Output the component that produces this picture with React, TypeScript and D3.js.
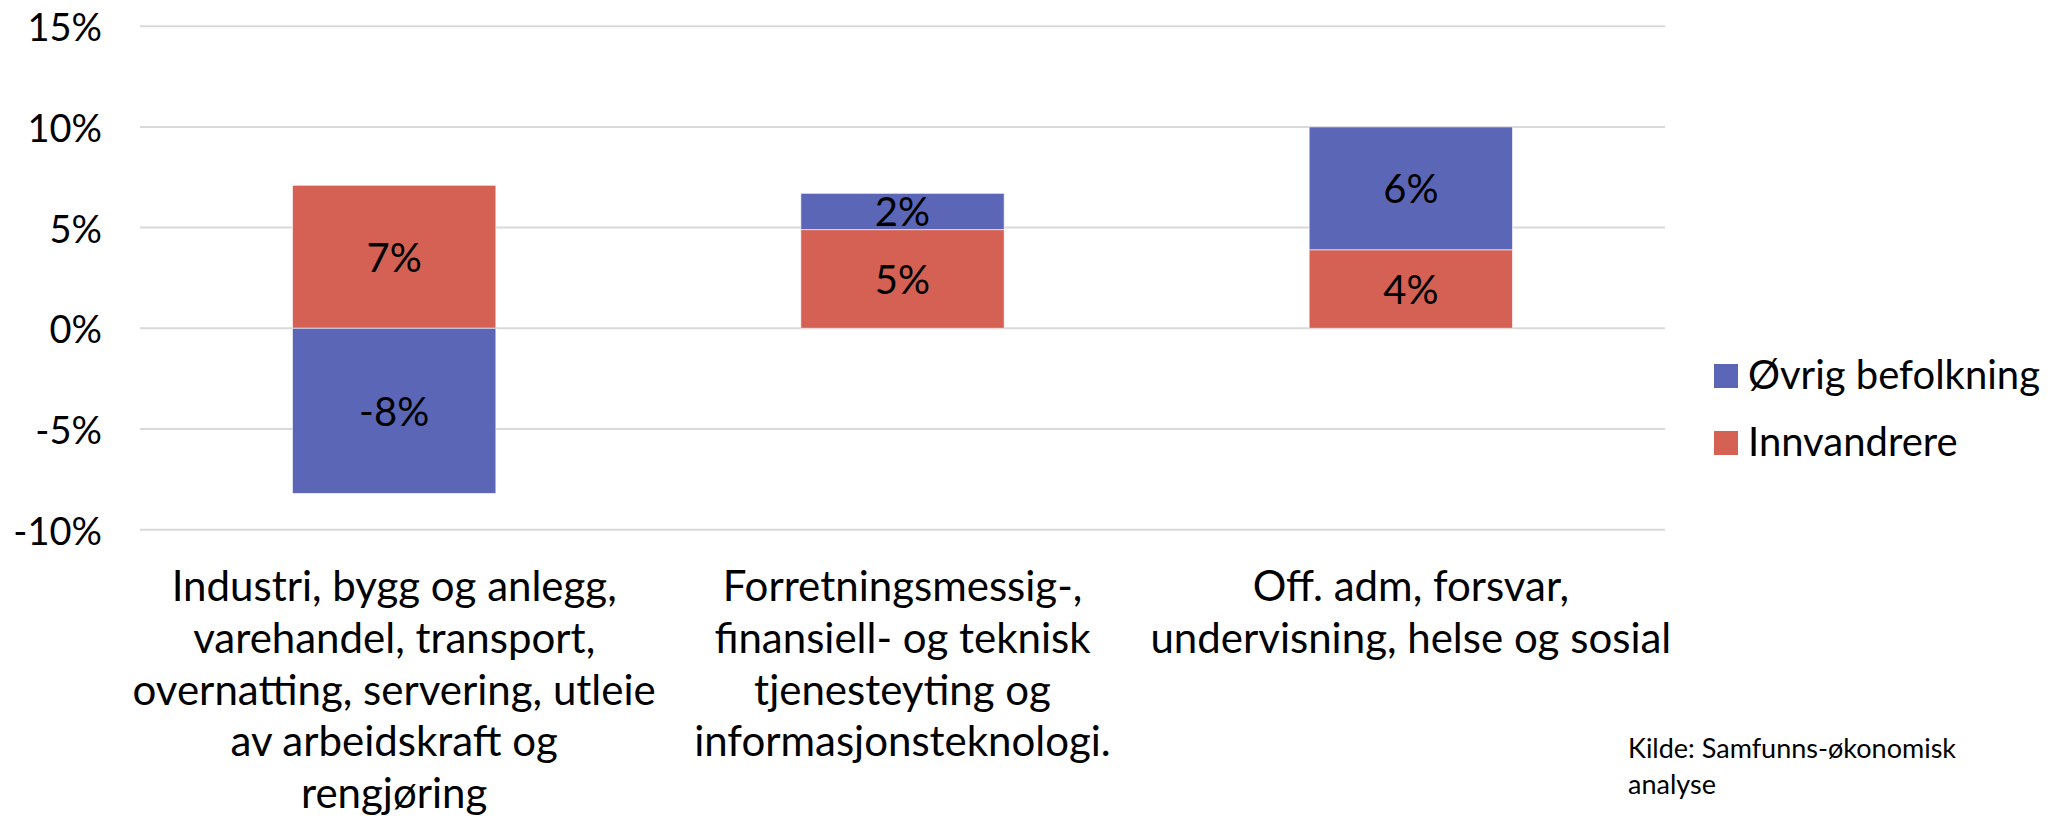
import React from 'react';
import * as d3 from 'd3';

const categories = ['industri', 'forretning', 'offentlig'];
const categoryLines = [
  ['Industri, bygg og anlegg,', 'varehandel, transport,', 'overnatting, servering, utleie', 'av arbeidskraft og', 'rengjøring'],
  ['Forretningsmessig-,', 'finansiell- og teknisk', 'tjenesteyting og', 'informasjonsteknologi.'],
  ['Off. adm, forsvar,', 'undervisning, helse og sosial'],
];
const innvandrere = [7.1, 4.9, 3.9];
const ovrig = [-8.2, 1.8, 6.1];
const seriesNames = ['Innvandrere', 'Øvrig befolkning'];
const seriesColors = ['#D46153', '#5C66B6'];
const yTicks = [-10, -5, 0, 5, 10, 15];
const sourceLines = ['Kilde: Samfunns-økonomisk', 'analyse'];

const FONT = 'Lato, "Open Sans", sans-serif';

export default function App() {
  const width = 2056;
  const height = 816;
  const plotLeft = 140;
  const plotRight = 1665;

  const y = d3.scaleLinear().domain([-10, 15]).range([529.7, 26.2]);
  const x = d3
    .scaleBand<string>()
    .domain(categories)
    .range([plotLeft, plotRight])
    .paddingInner(0.6)
    .paddingOuter(0.3);

  const rows = categories.map((c, i) => ({ cat: c, s0: innvandrere[i], s1: ovrig[i] }));
  const stacked = d3
    .stack<any>()
    .keys(['s0', 's1'])
    .offset(d3.stackOffsetDiverging)(rows);

  const fmt = (v: number) => `${Math.round(v)}%`;

  return (
    <svg width={width} height={height} style={{ display: 'block', position: 'absolute', left: 0, top: 0 }}>
      <rect width={width} height={height} fill="#fff" />
      {yTicks.map((t) => (
        <g key={t}>
          <line x1={plotLeft} x2={plotRight} y1={y(t)} y2={y(t)} stroke="#D9D9D9" strokeWidth={2} />
          <text
            x={102}
            y={y(t)}
            textAnchor="end"
            dominantBaseline="central"
            fontFamily={FONT}
            fontSize={38}
            fill="#000"
          >
            {t}%
          </text>
        </g>
      ))}

      {stacked.map((layer, si) => (
        <g key={si} fill={seriesColors[si]}>
          {layer.map((d, i) => {
            const top = y(Math.max(d[0], d[1]));
            const bot = y(Math.min(d[0], d[1]));
            const xx = x(d.data.cat) as number;
            const v = si === 0 ? innvandrere[i] : ovrig[i];
            return (
              <g key={i}>
                <rect x={xx} y={top} width={x.bandwidth()} height={bot - top} stroke="#fff" strokeOpacity={0.6} strokeWidth={1} />
                <text
                  x={xx + x.bandwidth() / 2}
                  y={(top + bot) / 2}
                  textAnchor="middle"
                  dominantBaseline="central"
                  fontFamily={FONT}
                  fontSize={40}
                  fill="#000"
                >
                  {fmt(v)}
                </text>
              </g>
            );
          })}
        </g>
      ))}

      {categories.map((c, i) => (
        <text key={c} textAnchor="middle" fontFamily={FONT} fontSize={42} fill="#000">
          {categoryLines[i].map((line, j) => (
            <tspan key={j} x={(x(c) as number) + x.bandwidth() / 2} y={601 + j * 51.8}>
              {line}
            </tspan>
          ))}
        </text>
      ))}

      {[1, 0].map((si, k) => (
        <g key={si} transform={`translate(1714, ${364 + k * 67})`}>
          <rect width={24} height={24} fill={seriesColors[si]} />
          <text x={34} y={25} fontFamily={FONT} fontSize={40} fill="#000">
            {seriesNames[si]}
          </text>
        </g>
      ))}

      <text fontFamily={FONT} fontSize={27} fill="#000">
        {sourceLines.map((l, j) => (
          <tspan key={j} x={1628} y={758 + j * 36}>
            {l}
          </tspan>
        ))}
      </text>
    </svg>
  );
}
